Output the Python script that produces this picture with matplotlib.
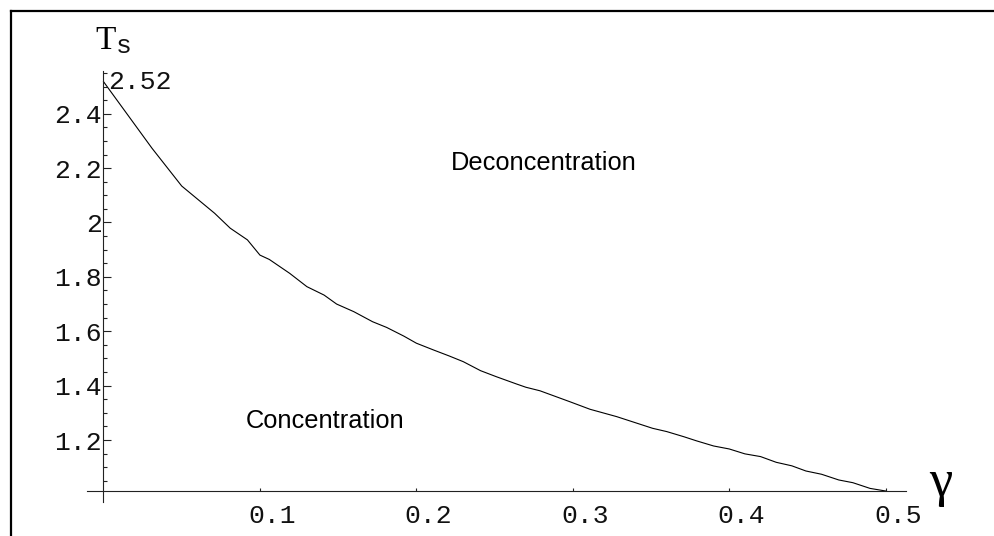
import numpy as np
import matplotlib
matplotlib.use("Agg")
import matplotlib.pyplot as plt
from matplotlib.lines import Line2D
from matplotlib.transforms import ScaledTranslation

# values
gamma = [0, 0.031, 0.05, 0.071, 0.081, 0.092, 0.100, 0.106, 0.119, 0.130,
         0.141, 0.149, 0.160, 0.172, 0.181, 0.192, 0.200, 0.211, 0.221, 0.230,
         0.241, 0.251, 0.264, 0.270, 0.279, 0.298, 0.311, 0.328, 0.351, 0.360,
         0.371, 0.379, 0.390, 0.400, 0.410, 0.420, 0.430, 0.440, 0.449, 0.459,
         0.470, 0.479, 0.490, 0.500]
t_s = [2.518, 2.273, 2.134, 2.034, 1.979, 1.936, 1.880, 1.864, 1.813, 1.764,
       1.733, 1.700, 1.672, 1.635, 1.614, 1.582, 1.556, 1.531, 1.509, 1.488,
       1.455, 1.433, 1.406, 1.394, 1.381, 1.341, 1.313, 1.286, 1.243, 1.231,
       1.212, 1.197, 1.178, 1.167, 1.149, 1.139, 1.118, 1.105, 1.086, 1.074,
       1.053, 1.043, 1.022, 1.0124]
x_ticks = [0.1, 0.2, 0.3, 0.4, 0.5]
y_ticks = [1.2, 1.4, 1.6, 1.8, 2.0, 2.2, 2.4]
x_origin = 0.0
y_origin = 1.0124

MONO = "Liberation Mono"


def build_graph():
    W, H = 994, 536
    fig = plt.figure(figsize=(W / 100, H / 100), dpi=100)

    # axes box in pixels (left, top, right, bottom)
    left, top, right, bottom = 87, 71, 905.7, 502
    ax = fig.add_axes([left / W, 1 - bottom / H, (right - left) / W, (bottom - top) / H])
    ax.set_xlim(-0.010547, 0.51278)
    ax.set_ylim(0.97198, 2.5571)

    ax.plot(gamma, t_s, color="black", lw=0.8, solid_joinstyle="round")

    for s in ["top", "right"]:
        ax.spines[s].set_visible(False)
    ax.spines["left"].set_position(("data", x_origin))
    ax.spines["bottom"].set_position(("data", y_origin))
    for s in ["left", "bottom"]:
        ax.spines[s].set_linewidth(0.8)
        ax.spines[s].set_color("#222222")

    ax.set_xticks(x_ticks)
    ax.set_xticklabels(["%g" % v for v in x_ticks])
    ax.set_yticks(y_ticks)
    ax.set_yticklabels(["%g" % v for v in y_ticks])
    ax.set_yticks(np.arange(1.05, 2.56, 0.05), minor=True)

    ax.tick_params(axis="x", direction="in", length=2.5, width=0.8, pad=9,
                   labelsize=19, color="#222222", labelcolor="#111111")
    ax.tick_params(axis="y", which="major", direction="in", length=5.5, width=0.8,
                   pad=1, labelsize=19, color="#222222", labelcolor="#111111")
    ax.tick_params(axis="y", which="minor", direction="in", length=3, width=0.8,
                   color="#222222")
    for lab in ax.get_xticklabels() + ax.get_yticklabels():
        lab.set_family(MONO)
    off = ScaledTranslation(0.12, 0, fig.dpi_scale_trans)
    for lab in ax.get_xticklabels():
        lab.set_transform(lab.get_transform() + off)

    ax.text(0.003, 2.49, "2.52", family=MONO, fontsize=19, ha="left",
            va="baseline", color="#111111")
    ax.text(0.2815, 2.193, "Deconcentration", family="Liberation Sans",
            fontsize=18.3, ha="center", va="baseline")
    ax.text(0.1415, 1.243, "Concentration", family="Liberation Sans",
            fontsize=18.3, ha="center", va="baseline")

    # axis labels
    ax.text(-0.005, 2.638, "T", family="Liberation Serif", fontsize=24, ha="left",
            va="baseline", clip_on=False)
    ax.text(0.008, 2.624, "s", family=MONO, fontsize=19, ha="left",
            va="baseline", clip_on=False, color="#111111")
    ax.text(0.528, 0.994, "γ", family="Liberation Serif", fontsize=38,
            ha="left", va="baseline", clip_on=False)

    # outer frame (left and top edges only are visible)
    fx, fy = 10.5 / W, 1 - 10.5 / H
    fig.add_artist(Line2D([fx, fx], [0, fy], transform=fig.transFigure,
                          color="black", lw=1.6))
    fig.add_artist(Line2D([fx, 1], [fy, fy], transform=fig.transFigure,
                          color="black", lw=1.6))

    fig.savefig("out.png", dpi=100)


def main():
    build_graph()


if __name__ == "__main__":
    main()
